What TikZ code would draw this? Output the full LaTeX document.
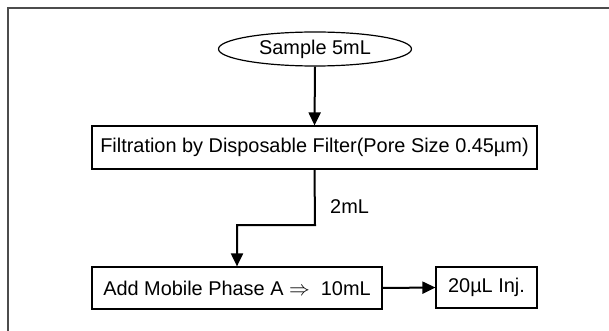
\documentclass[tikz,border=0pt]{standalone}
\usepackage{fontspec}
\setmainfont{Liberation Sans}
\usetikzlibrary{shapes.geometric,arrows.meta}
\begin{document}
\begin{tikzpicture}[x=1pt,y=-1pt,
  txt/.style={font=\fontsize{19.9}{23}\selectfont},
  box/.style={draw, line width=1.2pt, inner sep=0pt, txt},
  conn/.style={line width=2pt, -{Triangle[length=13pt,width=12pt]}},
  frame/.style={draw=black!70, line width=1.5pt}]
\useasboundingbox (0,0) rectangle (609,331);
\draw[frame] (609,8) -- (8,8) -- (8,331);
\node[box, ellipse, minimum width=193pt, minimum height=34pt] (s) at (315,49) {Sample 5mL};
\node[box, minimum width=445pt, minimum height=43pt] (f) at (314.5,147.5) {Filtration by Disposable Filter(Pore Size 0.45µm)};
\node[box, minimum width=290pt, minimum height=42pt] (a) at (237,288) {Add Mobile Phase A $\Rightarrow$\ \ 10mL};
\node[box, minimum width=101pt, minimum height=41pt] (i) at (486.5,287.5) {20µL Inj.};
\coordinate (j1) at (315,225);
\coordinate (j2) at (237,225);
\draw[conn] (s.south) -- (f.north);
\draw[conn] (f.south) -- (j1) -- (j2) -- (a.north);
\draw[conn] (a.east) -- (i.west);
\node[txt, anchor=west, inner sep=0pt] (l) at (330,207) {2mL};
\end{tikzpicture}
\end{document}
